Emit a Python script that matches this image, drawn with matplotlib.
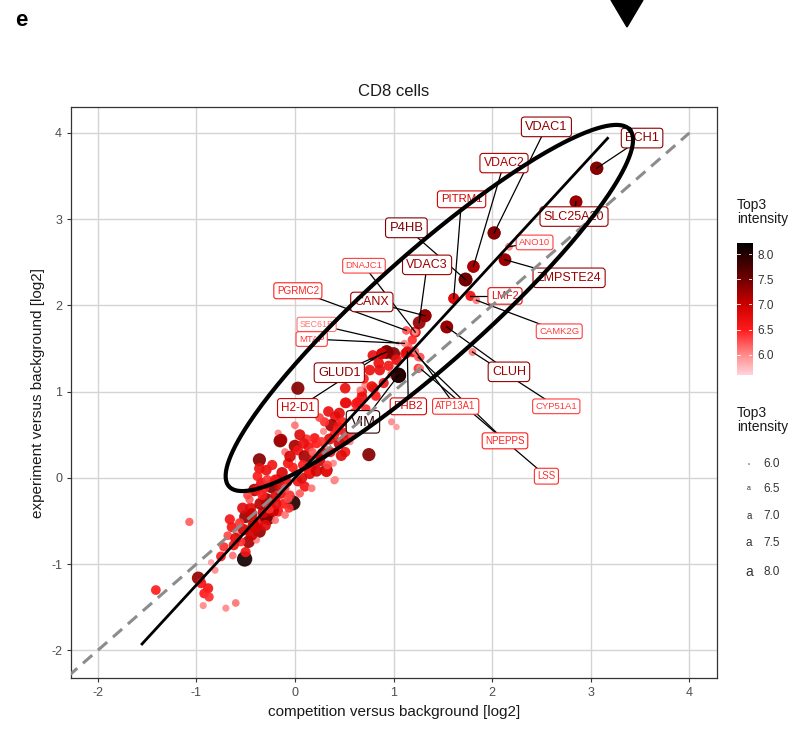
import numpy as np
import matplotlib
matplotlib.use("Agg")
import matplotlib.pyplot as plt
from matplotlib.colors import LinearSegmentedColormap, Normalize
from matplotlib.patches import Polygon

plt.rcParams['font.family'] = ['Liberation Sans', 'DejaVu Sans']
plt.rcParams['axes.unicode_minus'] = False

# protein points: competition (x), experiment (y), Top3 intensity
comp = [
    -1.41, -1.07, -0.98, -0.95, -0.88, -0.92, -0.87, -0.93, -0.70, -0.60, -0.81, -0.85,
    -0.75, -0.63, -0.72, -0.64, -0.58, -0.68, -0.51, -0.50, -0.47, -0.55, -0.60,
    -0.50, -0.37, -0.27, -0.36, -0.39, -0.20, -0.17, -0.10, -0.02, -0.29, -0.41, -0.24,
    -0.14, -0.34, -0.39, -0.29, -0.45, -0.42, -0.32, -0.25, -0.20, -0.12, -0.05, -0.30,
    -0.46, -0.35, -0.22, -0.15, -0.08, -0.52, -0.44, -0.56, -0.48, -0.33, -0.28, -0.18,
    -0.10, 0.03, 0.10, 0.17, 0.05, -0.06,
    -0.36, -0.36, -0.29, -0.15, -0.17, 0.00, 0.00, -0.14, -0.10, -0.07, -0.20, 0.00,
    0.03, 0.10, 0.14, 0.20, 0.17, 0.20, 0.29, 0.30, 0.32, 0.32, 0.39, 0.40, 0.41,
    0.34, 0.41, 0.51, 0.37, 0.44, 0.51, 0.56, 0.51, 0.51, 0.75, 0.68, 0.80, 0.71,
    0.03, 0.98, 1.03, 0.08, 0.15, 0.25, 0.22, 0.28, 0.12, 0.05, -0.05, 0.45, 0.40,
    0.30, 0.25, 0.45, 0.55, 0.60, 0.35,
    0.51, 0.66, 0.78, 0.68, 0.52, 0.79, 0.88, 0.93, 1.00, 1.12, 1.20, 1.03, 0.85,
    0.76, 0.86, 1.05, 1.25, 0.95, 0.70, 0.90, 1.13, 1.22, 1.19, 1.32, 1.54, 1.80,
    1.61, 1.78, 1.73, 1.81, 2.02, 2.17, 2.13, 2.85, 3.06, 1.11, 1.15, 1.84, 1.27,
    -0.62, -0.40, -0.26, -0.44, -0.31, -0.19, -0.07, 0.07, 0.13, 0.22, 0.27, 0.36,
    0.43, 0.47, 0.58, 0.62, 0.18, 0.09, -0.02, -0.13, -0.23, -0.38, -0.53, -0.66,
    0.33, 0.48, 0.64, 0.72, 0.82, 0.98,
]
expt = [
    -1.30, -0.51, -1.16, -1.22, -1.28, -1.34, -1.38, -1.48, -1.51, -1.45, -1.07, -0.98,
    -0.91, -0.90, -0.80, -0.57, -0.64, -0.67, -0.94, -0.86, -0.74, -0.74, -0.70,
    -0.45, -0.51, -0.47, -0.62, -0.72, -0.49, -0.39, -0.43, -0.29, -0.25, -0.14, -0.10,
    -0.18, -0.06, -0.14, -0.45, -0.35, -0.55, -0.40, -0.30, -0.22, -0.30, -0.20, -0.55,
    -0.25, -0.30, -0.38, -0.10, -0.05, -0.60, -0.66, -0.52, -0.20, -0.20, -0.02, -0.02,
    -0.12, -0.04, -0.10, -0.12, -0.18, -0.35,
    0.21, 0.11, 0.09, 0.43, 0.52, 0.61, 0.37, 0.44, 0.30, 0.17, -0.02, 0.07,
    0.32, 0.25, 0.36, 0.23, 0.13, 0.46, 0.54, 0.36, 0.09, 0.07, 0.17, -0.03, -0.02,
    0.77, 0.71, 0.87, 0.61, 0.59, 0.52, 0.42, 0.30, 0.44, 0.27, 1.00, 1.04, 1.08,
    1.04, 0.65, 0.59, 0.15, 0.05, 0.20, 0.40, 0.28, 0.45, 0.50, 0.25, 0.40, 0.50,
    0.65, 0.70, 0.75, 0.62, 0.75, 0.45,
    1.04, 1.02, 1.06, 0.94, 0.87, 1.42, 1.44, 1.46, 1.44, 1.44, 1.46, 1.37, 1.33,
    1.25, 1.25, 1.19, 1.27, 1.30, 1.15, 1.10, 1.71, 1.69, 1.60, 1.88, 1.75, 1.46,
    2.08, 2.11, 2.30, 2.45, 2.84, 2.68, 2.53, 3.20, 3.59, 1.56, 1.52, 2.06, 1.40,
    -0.78, -0.58, -0.36, -0.42, -0.12, -0.30, -0.24, 0.00, 0.10, 0.08, 0.42, 0.30,
    0.55, 0.26, 0.50, 0.86, 0.30, 0.40, 0.12, 0.06, 0.15, 0.02, -0.35, -0.48,
    0.15, 0.65, 0.88, 0.80, 0.95, 1.20,
]
top3 = [
    6.5, 6.2, 7.3, 6.6, 6.6, 6.5, 6.4, 6.0, 6.0, 6.1, 6.0, 5.9,
    6.5, 6.1, 6.4, 6.6, 6.0, 6.3, 8.1, 6.6, 7.2, 6.4, 6.8,
    7.3, 6.7, 7.4, 7.3, 6.0, 6.1, 6.6, 6.1, 8.0, 7.3, 7.2, 7.4,
    6.7, 6.7, 6.6, 7.4, 6.8, 7.0, 6.9, 6.5, 6.8, 6.5, 6.4, 6.8,
    6.2, 7.1, 7.0, 6.9, 6.6, 6.9, 7.0, 6.4, 6.3, 6.5, 6.4, 6.7,
    6.3, 6.6, 6.6, 6.1, 6.2, 6.4,
    7.4, 6.7, 6.7, 7.4, 6.0, 6.1, 7.2, 7.2, 6.1, 6.6, 6.6, 6.0,
    6.6, 7.2, 6.6, 6.6, 6.6, 6.6, 6.0, 6.0, 7.2, 6.7, 6.0, 6.1, 6.0,
    6.7, 6.7, 6.7, 7.2, 6.7, 6.6, 6.0, 6.6, 6.7, 7.4, 6.6, 6.6, 6.0,
    7.4, 6.0, 5.9, 6.5, 6.8, 6.9, 6.5, 7.0, 6.4, 6.8, 6.9, 6.9, 6.5,
    6.4, 6.3, 6.8, 6.5, 6.6, 6.8,
    6.7, 6.0, 6.7, 6.7, 6.7, 6.7, 6.8, 7.5, 7.4, 6.7, 6.7, 6.7, 6.7,
    6.7, 6.7, 8.1, 6.4, 6.6, 6.5, 6.6, 6.2, 6.8, 6.4, 7.3, 7.2, 6.1,
    6.7, 6.1, 7.6, 7.1, 7.3, 6.1, 7.0, 7.2, 7.4, 5.9, 6.2, 6.1, 6.3,
    6.6, 6.9, 6.4, 7.0, 6.5, 6.7, 6.3, 6.8, 6.5, 6.9, 6.4, 6.6,
    6.5, 6.8, 6.3, 6.6, 6.2, 6.7, 6.5, 6.9, 6.6, 6.5, 6.8, 6.6,
    6.3, 6.5, 6.6, 6.4, 6.5, 6.2,
]

# labelled proteins: name, point x, point y, intensity
lab_names = ["VDAC1", "ECH1", "VDAC2", "PITRM1", "P4HB", "SLC25A20", "ANO10", "ZMPSTE24",
             "LMF2", "CAMK2G", "DNAJC1", "VDAC3", "PGRMC2", "CANX", "SEC61B", "MTAP",
             "GLUD1", "H2-D1", "VIM", "PHB2", "ATP13A1", "CLUH", "CYP51A1", "NPEPPS", "LSS"]
lab_px = [2.02, 3.06, 1.81, 1.61, 1.73, 2.85, 2.17, 2.13,
          1.78, 1.84, 1.22, 1.26, 1.13, 1.32, 1.05, 1.11,
          0.93, 0.88, 1.05, 1.14, 1.22, 1.54, 1.80, 1.25, 1.27]
lab_py = [2.84, 3.59, 2.45, 2.08, 2.30, 3.20, 2.68, 2.53,
          2.11, 2.06, 1.69, 1.80, 1.71, 1.88, 1.56, 1.56,
          1.46, 1.44, 1.19, 1.46, 1.47, 1.75, 1.46, 1.40, 1.27]
lab_top3 = [7.4, 7.4, 7.2, 6.8, 7.5, 7.3, 6.0, 7.3,
            6.6, 6.0, 6.0, 7.3, 6.2, 7.3, 5.7, 6.0,
            7.4, 6.9, 8.0, 6.8, 6.1, 7.3, 6.0, 6.2, 6.1]
# where ggrepel put the label boxes
lab_tx = [2.55, 3.52, 2.12, 1.69, 1.13, 2.83, 2.43, 2.78,
          2.13, 2.68, 0.70, 1.34, 0.03, 0.78, 0.22, 0.17,
          0.45, 0.03, 0.69, 1.15, 1.63, 2.17, 2.65, 2.13, 2.55]
lab_ty = [4.07, 3.94, 3.65, 3.23, 2.90, 3.03, 2.73, 2.32,
          2.11, 1.70, 2.46, 2.47, 2.17, 2.04, 1.78, 1.61,
          1.22, 0.81, 0.65, 0.83, 0.83, 1.23, 0.83, 0.43, 0.02]

# fitted line (slope, intercept, x range) and highlight ellipse
fit_slope, fit_icpt = 1.242, 0.0
fit_range = [-1.55, 3.17]
ell_center = (1.363, 1.97)
ell_a, ell_b, ell_angle, ell_ystretch = 2.725, 0.56, 41.8, 1.139

cmap = LinearSegmentedColormap.from_list("top3", [
    (0.0, "#FFD3DA"), (0.153, "#FF8A8A"), (0.344, "#FF1A1A"), (0.535, "#CC0000"),
    (0.725, "#720000"), (0.916, "#260000"), (1.0, "#000000")])
norm = Normalize(5.6, 8.22)


def dot_size(v):
    return 22 + (np.asarray(v) - 5.9) / 2.2 * 100


def label_size(v):
    return 6.3 + (v - 5.7) / 2.3 * 3.9


def label_colour(v):
    # faint labels read a bit stronger than their points
    return cmap(norm(np.interp(v, [5.7, 6.0, 7.5, 8.0], [6.1, 6.35, 7.4, 7.95])))


fig = plt.figure(figsize=(7.99, 7.30), dpi=100)
ax = fig.add_axes([0.0889, 0.0712, 0.8085, 0.7822])

ax.scatter(comp, expt, s=dot_size(top3), c=top3, cmap=cmap, norm=norm,
           alpha=0.92, linewidths=0, zorder=3)
ax.scatter(lab_px, lab_py, s=dot_size(lab_top3), c=lab_top3, cmap=cmap, norm=norm,
           alpha=0.92, linewidths=0, zorder=3)

for i, name in enumerate(lab_names):
    col = label_colour(lab_top3[i])
    ax.plot([lab_px[i], lab_tx[i]], [lab_py[i], lab_ty[i]], color="black", lw=0.9, zorder=4)
    ax.text(lab_tx[i], lab_ty[i], name, ha="center", va="center", color=col,
            fontsize=label_size(lab_top3[i]), zorder=5,
            bbox=dict(boxstyle="round,pad=0.3,rounding_size=0.25", fc="white", ec=col, lw=0.8))

# diagonal, fit and ellipse on top
ax.plot([-2.3, 4.0], [-2.3, 4.0], ls=(0, (4, 2.5)), color="#8C8C8C", lw=2.2, zorder=6)
fx = np.array(fit_range)
ax.plot(fx, fit_slope * fx + fit_icpt, color="black", lw=2.0, zorder=6)
t = np.linspace(0, 2 * np.pi, 300)
th = np.radians(ell_angle)
ex = ell_center[0] + ell_a * np.cos(t) * np.cos(th) - ell_b * np.sin(t) * np.sin(th)
ey = ell_center[1] + (ell_a * np.cos(t) * np.sin(th) + ell_b * np.sin(t) * np.cos(th)) * ell_ystretch
ax.plot(ex, ey, color="black", lw=3.0, zorder=6)

ax.set_xlim(-2.27, 4.28)
ax.set_ylim(-2.32, 4.30)
ax.set_xticks([-2, -1, 0, 1, 2, 3, 4])
ax.set_yticks([-2, -1, 0, 1, 2, 3, 4])
ax.grid(True, color="#D4D4D4", lw=1.0, zorder=0)
ax.set_axisbelow(True)
for sp in ax.spines.values():
    sp.set_color("#333333")
    sp.set_linewidth(0.9)
ax.tick_params(colors="#333333", labelcolor="#4D4D4D", labelsize=9, length=3, width=0.8)
ax.set_xlabel("competition versus background [log2]", fontsize=11, color="#1A1A1A")
ax.set_ylabel("experiment versus background [log2]", fontsize=11, color="#1A1A1A")
ax.set_title("CD8 cells", fontsize=12, color="#1A1A1A", pad=8)

# colour legend
fig.text(0.922, 1 - 198 / 730, "Top3\nintensity", fontsize=10, va="top", ha="left",
         color="#1A1A1A", linespacing=1.0)
cax = fig.add_axes([0.9224, 1 - 375 / 730, 0.0188, 132 / 730])
grad = np.linspace(8.22, 5.6, 200).reshape(-1, 1)
cax.imshow(grad, cmap=cmap, norm=norm, aspect="auto", extent=[0, 1, 5.6, 8.22])
cax.set_xticks([])
cax.set_yticks([6.0, 6.5, 7.0, 7.5, 8.0])
cax.yaxis.tick_right()
cax.tick_params(axis="y", length=0, labelsize=8.5, labelcolor="#333333", pad=4)
for v in [6.0, 6.5, 7.0, 7.5, 8.0]:
    cax.plot([0, 0.2], [v, v], color="white", lw=0.6)
    cax.plot([0.8, 1], [v, v], color="white", lw=0.6)
cax.set_xlim(0, 1)
cax.set_ylim(5.6, 8.22)
for sp in cax.spines.values():
    sp.set_visible(False)

# size legend
fig.text(0.922, 1 - 406 / 730, "Top3\nintensity", fontsize=10, va="top", ha="left",
         color="#1A1A1A", linespacing=1.0)
size_vals = [6.0, 6.5, 7.0, 7.5, 8.0]
size_y = [464, 489, 516, 543, 572]
size_fs = [2.5, 5.0, 7.0, 8.5, 10.0]
for v, yy, fs in zip(size_vals, size_y, size_fs):
    fig.text(749 / 799, 1 - yy / 730, "a", fontsize=fs, ha="center", va="center", color="#333333")
    fig.text(763 / 799, 1 - yy / 730, f"{v:.1f}", fontsize=8.5, ha="left", va="center", color="#333333")

# panel letter and stray arrow tip from the composite figure
fig.text(15 / 799, 1 - 20 / 730, "e", fontsize=16, fontweight="bold", ha="left", va="center")
fig.patches.append(Polygon([[611 / 799, 1.0], [643 / 799, 1.0], [627 / 799, 1 - 27 / 730]],
                           closed=True, transform=fig.transFigure, fc="black", ec="black"))

fig.savefig("out.png", dpi=100)
